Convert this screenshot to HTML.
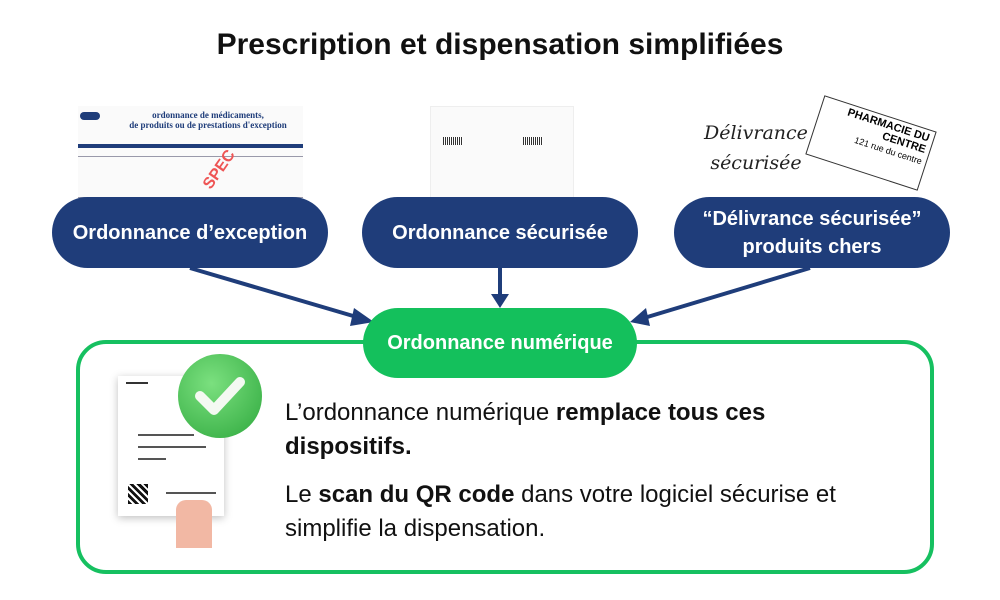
<!DOCTYPE html>
<html><head><meta charset="utf-8"><style>
body{margin:0;width:1000px;height:600px;background:#fff;position:relative;font-family:"Liberation Sans",sans-serif;overflow:hidden}
.t{position:absolute;left:0;width:1000px;top:28px;text-align:center;font-weight:bold;font-size:30px;color:#111}
.pill{position:absolute;background:#1f3d7a;color:#fff;border-radius:36px;display:flex;align-items:center;justify-content:center;text-align:center;font-weight:bold;font-size:20px;line-height:28px}
.box{position:absolute;left:76px;top:340px;width:850px;height:226px;border:4px solid #16c060;border-radius:30px}
.g{position:absolute;left:363px;top:308px;width:274px;height:70px;background:#14c05c;border-radius:36px;color:#fff;font-weight:bold;font-size:20px;display:flex;align-items:center;justify-content:center}
.p{position:absolute;left:285px;font-size:24px;line-height:34px;color:#111;width:600px}
</style></head><body>
<div class="t">Prescription et dispensation simplifiées</div>
<!-- doc images -->
<div style="position:absolute;left:78px;top:106px;width:225px;height:92px;background:#fafafa">
<div style="position:absolute;left:2px;top:6px;width:20px;height:8px;background:#1f3d7a;border-radius:4px"></div>
<div style="position:absolute;left:40px;top:4px;width:180px;font-family:'Liberation Serif',serif;font-size:9px;color:#1f3d7a;text-align:center;font-weight:bold;line-height:10px">ordonnance de médicaments,<br>de produits ou de prestations d'exception</div>
<div style="position:absolute;left:0;top:38px;width:225px;height:4px;background:#1f3d7a"></div>
<div style="position:absolute;left:0;top:50px;width:225px;height:40px;border-top:1px solid #99a;border-bottom:1px solid #99a"></div>
<div style="position:absolute;left:120px;top:55px;color:#e55;font-weight:bold;font-size:16px;transform:rotate(-55deg)">SPEC</div>
</div>
<div style="position:absolute;left:430px;top:106px;width:142px;height:92px;background:#fafafa;border:1px solid #eee">
<div style="position:absolute;left:12px;top:30px;width:20px;height:8px;background:repeating-linear-gradient(90deg,#333 0 1px,#fff 1px 2px)"></div>
<div style="position:absolute;left:92px;top:30px;width:20px;height:8px;background:repeating-linear-gradient(90deg,#333 0 1px,#fff 1px 2px)"></div>
</div>
<div style="position:absolute;left:704px;top:118px;font-family:'DejaVu Serif',serif;font-style:italic;font-size:19px;line-height:30px;text-align:center;color:#222">Délivrance<br>sécurisée</div>
<div style="position:absolute;left:812px;top:112px;width:118px;height:62px;border:1px solid #333;background:#fff;transform:rotate(18deg);font-size:11px;font-weight:bold;text-align:right;padding:2px 4px;box-sizing:border-box">PHARMACIE DU CENTRE<br><span style="font-weight:normal;font-size:9px">121 rue du centre</span></div>
<div class="pill" style="left:52px;top:197px;width:276px;height:71px">Ordonnance d’exception</div>
<div class="pill" style="left:362px;top:197px;width:276px;height:71px">Ordonnance sécurisée</div>
<div class="pill" style="left:674px;top:197px;width:276px;height:71px">“Délivrance sécurisée”<br>produits chers</div>
<svg style="position:absolute;left:0;top:0" width="1000" height="600">
<g stroke="#1f3d7a" stroke-width="4" fill="#1f3d7a">
<line x1="190" y1="268" x2="360" y2="318"/><polygon points="374,322 354,308 350,326" stroke="none"/>
<line x1="500" y1="268" x2="500" y2="296"/><polygon points="491,294 509,294 500,308" stroke="none"/>
<line x1="810" y1="268" x2="644" y2="318"/><polygon points="630,322 650,326 646,308" stroke="none"/>
</g></svg>
<div class="box"></div>
<div class="g">Ordonnance numérique</div>
<!-- illustration -->
<div style="position:absolute;left:118px;top:376px;width:106px;height:140px;background:#fff;box-shadow:0 2px 8px rgba(0,0,0,.25)">
<div style="position:absolute;left:8px;top:6px;width:22px;height:2px;background:#333"></div>
<div style="position:absolute;left:20px;top:58px;width:56px;height:2px;background:#555"></div>
<div style="position:absolute;left:20px;top:70px;width:68px;height:2px;background:#555"></div>
<div style="position:absolute;left:20px;top:82px;width:28px;height:2px;background:#555"></div>
<div style="position:absolute;left:10px;top:108px;width:20px;height:20px;background:repeating-linear-gradient(45deg,#111 0 3px,#fff 3px 5px)"></div>
<div style="position:absolute;left:48px;top:116px;width:50px;height:2px;background:#555"></div>
</div>
<div style="position:absolute;left:176px;top:500px;width:36px;height:48px;background:#f2b8a4;border-radius:10px 10px 0 0"></div>
<div style="position:absolute;left:178px;top:354px;width:84px;height:84px;border-radius:50%;background:radial-gradient(circle at 40% 35%,#7be07f,#2ea83d)"></div>
<svg style="position:absolute;left:178px;top:354px" width="84" height="84"><polyline points="22,42 36,56 62,28" fill="none" stroke="#f4f9f2" stroke-width="10" stroke-linecap="round" stroke-linejoin="round"/></svg>
<div class="p" style="top:396px">L’ordonnance numérique <b>remplace tous ces dispositifs.</b></div>
<div class="p" style="top:478px">Le <b>scan du QR code</b> dans votre logiciel sécurise et simplifie la dispensation.</div>
</body></html>
